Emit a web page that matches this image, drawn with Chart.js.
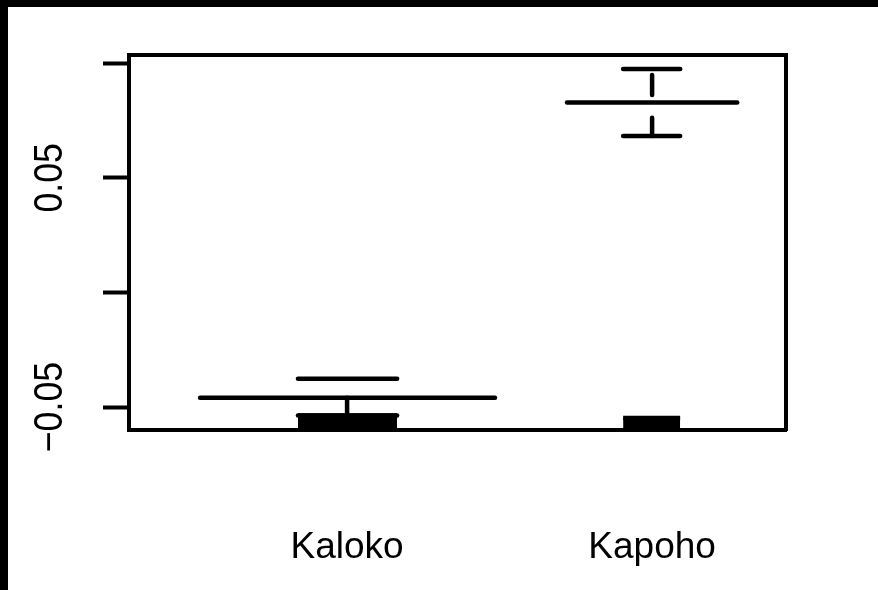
<!DOCTYPE html>
<html>
<head>
<meta charset="utf-8">
<script src="https://cdn.jsdelivr.net/npm/chart.js@4"></script>
<style>
  html, body { margin: 0; padding: 0; background: #000; }
  body { width: 878px; height: 590px; overflow: hidden; position: relative; }
  #chart { position: absolute; left: 8px; top: 7px; background: #fff; }
</style>
</head>
<body>
<canvas id="chart" width="870" height="583"></canvas>
<script>
// values
const categories = ['Kaloko', 'Kapoho'];
const centers = [1, 2];
const medians = [-0.0459, 0.0829];
const medianSpan = [[0.518, 1.485], [1.721, 2.279]];
const capSpan = [[0.839, 1.164], [1.905, 2.092]];
const upperCaps = [-0.0376, 0.0975];
const lowerCaps = [-0.0537, 0.0683];
const whiskerDashes = [[[-0.0459, -0.0537]], [[0.0949, 0.0862], [0.0762, 0.0683]]];
const boxTops = [-0.0537, -0.0548];
const yTicks = [-0.05, 0, 0.05, 0.1];
const yTickLabels = ['\u22120.05', '', '0.05', ''];
const yRange = [-0.06, 0.1036];
const xRange = [0.285, 2.439];

const FONT = '"Liberation Sans", Arial, sans-serif';

function seg(x1, y1, x2, y2, extra) {
  return Object.assign({
    data: [{ x: x1, y: y1 }, { x: x2, y: y2 }],
    borderColor: '#000',
    borderWidth: 4.5,
    borderCapStyle: 'round',
    pointRadius: 0,
    fill: false,
  }, extra || {});
}

const datasets = [];
categories.forEach((c, i) => {
  // filled block at the bottom
  datasets.push(seg(capSpan[i][0], boxTops[i], capSpan[i][1], boxTops[i], {
    fill: 'start', backgroundColor: '#000', borderCapStyle: 'butt'
  }));
  datasets.push(seg(medianSpan[i][0], medians[i], medianSpan[i][1], medians[i]));
  datasets.push(seg(capSpan[i][0], upperCaps[i], capSpan[i][1], upperCaps[i]));
  datasets.push(seg(capSpan[i][0], lowerCaps[i], capSpan[i][1], lowerCaps[i]));
  whiskerDashes[i].forEach(d => {
    datasets.push(seg(centers[i], d[0], centers[i], d[1]));
  });
});

const yLabelPlugin = {
  id: 'yLabels',
  afterDraw(chart) {
    const ctx = chart.ctx;
    const y = chart.scales.y;
    ctx.save();
    ctx.fillStyle = '#000';
    ctx.font = '38px ' + FONT;
    ctx.textAlign = 'center';
    ctx.textBaseline = 'middle';
    yTicks.forEach((v, i) => {
      if (!yTickLabels[i]) return;
      ctx.save();
      ctx.translate(43, y.getPixelForValue(v));
      ctx.rotate(-Math.PI / 2);
      ctx.scale(0.94, 1.05);
      ctx.fillText(yTickLabels[i], 0, 0);
      ctx.restore();
    });
    ctx.restore();
  }
};

const frame = { display: true, color: '#000', width: 4 };

new Chart(document.getElementById('chart'), {
  type: 'line',
  data: { datasets: datasets },
  options: {
    responsive: false,
    animation: false,
    layout: { padding: 0 },
    plugins: { legend: { display: false }, tooltip: { enabled: false } },
    scales: {
      x: {
        type: 'linear',
        min: xRange[0],
        max: xRange[1],
        afterBuildTicks: s => { s.ticks = centers.map(v => ({ value: v })); },
        afterFit: s => { s.height = 160; },
        grid: { display: false },
        border: frame,
        ticks: {
          color: '#000',
          padding: 88,
          maxRotation: 0,
          font: { size: 37, family: FONT },
          callback: (v, i) => categories[i]
        }
      },
      x2: {
        type: 'linear',
        position: 'top',
        min: xRange[0],
        max: xRange[1],
        afterFit: s => { s.height = 48; },
        grid: { display: false },
        border: frame,
        ticks: { display: false }
      },
      y: {
        type: 'linear',
        min: yRange[0],
        max: yRange[1],
        afterBuildTicks: s => { s.ticks = yTicks.map(v => ({ value: v })); },
        afterFit: s => { s.width = 121; },
        grid: {
          display: true,
          drawOnChartArea: false,
          drawTicks: true,
          tickLength: 26,
          tickWidth: 4,
          tickColor: '#000',
          color: '#000'
        },
        border: frame,
        ticks: { display: false }
      },
      y2: {
        type: 'linear',
        position: 'right',
        min: yRange[0],
        max: yRange[1],
        afterFit: s => { s.width = 92; },
        grid: { display: false },
        border: frame,
        ticks: { display: false }
      }
    }
  },
  plugins: [yLabelPlugin]
});
</script>
</body>
</html>
